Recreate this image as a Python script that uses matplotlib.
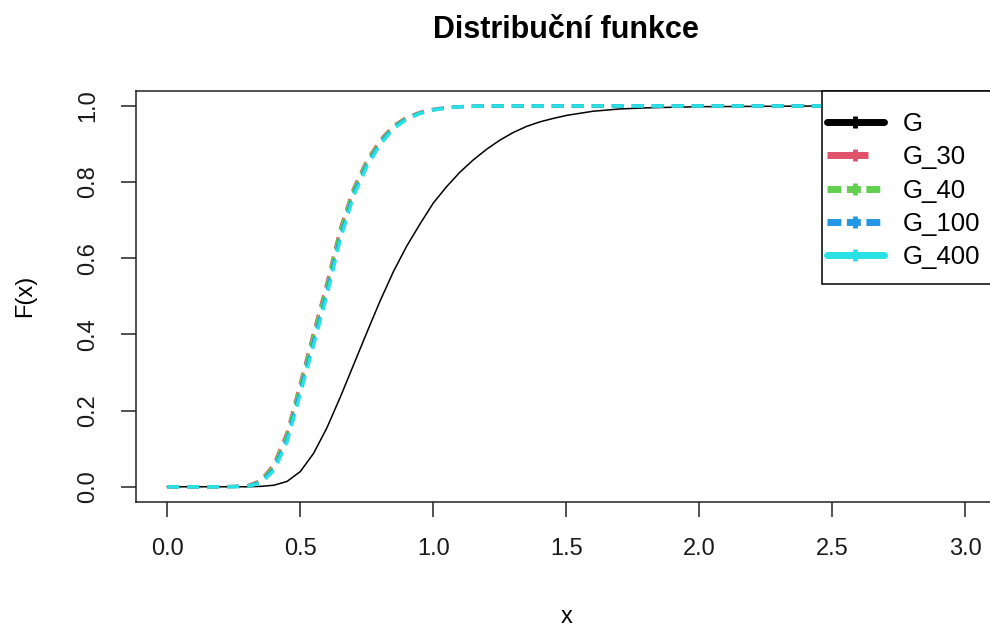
import numpy as np
import matplotlib
matplotlib.use("Agg")
import matplotlib.pyplot as plt
from matplotlib.lines import Line2D
from matplotlib.patches import Rectangle

plt.rcParams['font.family'] = ['Liberation Sans', 'DejaVu Sans']

# theoretical distribution function G
x_g = [0.0, 0.3, 0.35, 0.4, 0.45, 0.5, 0.55, 0.6, 0.65, 0.7, 0.75, 0.8, 0.85, 0.9, 0.95,
       1.0, 1.05, 1.1, 1.15, 1.2, 1.25, 1.3, 1.35, 1.4, 1.45, 1.5, 1.6, 1.7, 1.8, 2.0, 2.5, 3.0]
f_g = [0.0, 0.0, 0.001, 0.004, 0.014, 0.04, 0.088, 0.155, 0.235, 0.32, 0.405, 0.488, 0.565, 0.632, 0.69,
       0.745, 0.788, 0.826, 0.858, 0.886, 0.91, 0.93, 0.946, 0.958, 0.967, 0.975, 0.986, 0.992, 0.995,
       0.998, 1.0, 1.0]

# estimated distribution functions
x_est = [0.0, 0.1, 0.2, 0.3, 0.35, 0.4, 0.45, 0.5, 0.55, 0.6, 0.65, 0.7, 0.75, 0.8,
         0.85, 0.9, 0.95, 1.0, 1.05, 1.1, 1.2, 1.5, 2.0, 2.5, 3.0]
f_30 = [0.0, 0.0, 0.0, 0.002, 0.016, 0.058, 0.142, 0.272, 0.405, 0.535, 0.677, 0.783, 0.857, 0.91,
        0.948, 0.97, 0.983, 0.991, 0.996, 0.998, 1.0, 1.0, 1.0, 1.0, 1.0]
f_40 = [0.0, 0.0, 0.0, 0.001, 0.014, 0.054, 0.136, 0.266, 0.398, 0.528, 0.671, 0.779, 0.853, 0.907,
        0.946, 0.969, 0.982, 0.99, 0.995, 0.998, 1.0, 1.0, 1.0, 1.0, 1.0]
f_100 = [0.0, 0.0, 0.0, 0.001, 0.011, 0.047, 0.125, 0.254, 0.383, 0.513, 0.658, 0.77, 0.846, 0.902,
         0.943, 0.967, 0.981, 0.99, 0.995, 0.998, 1.0, 1.0, 1.0, 1.0, 1.0]
f_400 = [0.0, 0.0, 0.0, 0.001, 0.009, 0.042, 0.117, 0.244, 0.372, 0.502, 0.648, 0.763, 0.84, 0.898,
         0.94, 0.965, 0.98, 0.989, 0.995, 0.998, 1.0, 1.0, 1.0, 1.0, 1.0]

labels = ["G", "G_30", "G_40", "G_100", "G_400"]
colors = ["black", "#DF536B", "#61D04F", "#2297E6", "#28E2E5"]

fig = plt.figure(figsize=(9.9, 6.31), dpi=100)
ax = fig.add_axes([135.5 / 990, 1 - 502 / 631, 861.5 / 990, 411.3 / 631])

ax.plot(x_g, f_g, color=colors[0], lw=1.1)
for f, c in zip([f_30, f_40, f_100, f_400], colors[1:]):
    ax.plot(x_est, f, color=c, lw=2.4, linestyle=(0, (3.5, 2.5)))

ax.set_xlim(-0.12, 3.12)
ax.set_ylim(-0.04, 1.04)
ax.set_xticks([0.0, 0.5, 1.0, 1.5, 2.0, 2.5, 3.0])
ax.set_yticks([0.0, 0.2, 0.4, 0.6, 0.8, 1.0])
ax.set_xticklabels(["0.0", "0.5", "1.0", "1.5", "2.0", "2.5", "3.0"])
ax.set_yticklabels(["0.0", "0.2", "0.4", "0.6", "0.8", "1.0"], rotation=90, va='center')
ax.tick_params(axis='both', length=11, width=1.1, labelsize=17, pad=15, colors='#222222',
               labelcolor='#1a1a1a')
for s in ax.spines.values():
    s.set_linewidth(1.1)
    s.set_color('#222222')

ax.text(0.5, 1.148, "Distribuční funkce", transform=ax.transAxes, ha='center', va='center',
        fontsize=22, fontweight='bold')
ax.set_xlabel("x", fontsize=17, va='center')
ax.xaxis.set_label_coords(0.5, -0.28)
ax.set_ylabel("F(x)", fontsize=17, va='center')
ax.yaxis.set_label_coords(-0.128, 0.5)

# legend box (R style, top right)
ax.add_patch(Rectangle((0.797, 0.530), 0.203, 0.470, transform=ax.transAxes,
                       facecolor='white', edgecolor='black', lw=1.1, zorder=5, clip_on=False))
styles = ['-', (0, (5.9, 6.0)), (0, (2.0, 0.8)), (0, (2.0, 0.8)), '-']
handles = [Line2D([0], [0], color=c, lw=5, linestyle=ls, marker='|', ms=9, mew=3.5,
                  solid_capstyle='round')
           for c, ls in zip(colors, styles)]
leg = ax.legend(handles, labels, loc='upper left', bbox_to_anchor=(0.8027, 0.948),
                frameon=False, fontsize=18.5, handlelength=2.2, handletextpad=0.75,
                labelspacing=0.36, borderpad=0, borderaxespad=0)
leg.set_zorder(6)

fig.savefig("out.png", dpi=100)
